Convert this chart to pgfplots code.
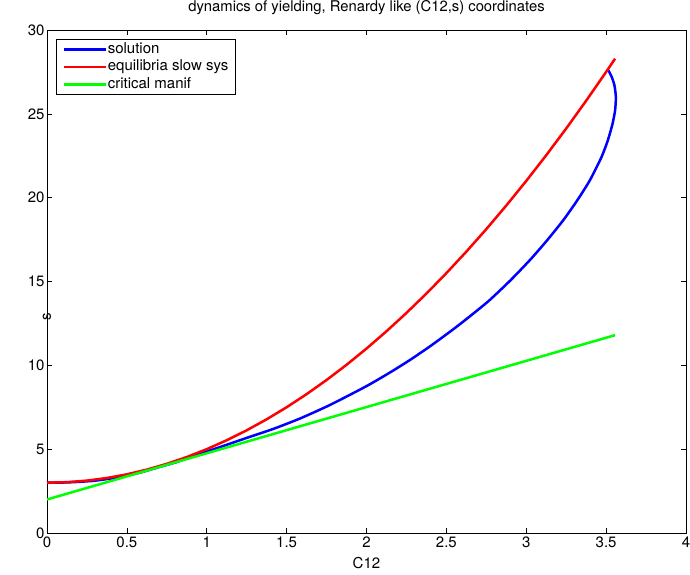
\documentclass[border=0pt]{standalone}
\usepackage{fontspec}
\setmainfont{TeX Gyre Heros}
\usepackage{pgfplots}
\pgfplotsset{compat=1.18}
\begin{document}
\begin{tikzpicture}
\useasboundingbox (-47pt,-41pt) rectangle (643pt,533pt);
\begin{axis}[
    at={(0pt,0pt)}, anchor=south west,
    scale only axis, width=639pt, height=503pt,
    xmin=0, xmax=4, ymin=0, ymax=30,
    xtick={0,0.5,...,4}, ytick={0,5,...,30},
    tick align=inside, major tick length=5pt,
    axis line style={line width=0.6pt},
    every tick/.style={black, line width=0.6pt},
    tick label style={font=\fontsize{15}{17}\selectfont},
    yticklabel style={xshift=1pt},
    /pgf/number format/assume math mode=true,
    title={dynamics of yielding, Renardy like (C12,s) coordinates},
    title style={at={(axis description cs:0.5,1)}, anchor=base, yshift=12pt,
        font=\fontsize{14.8}{17}\selectfont},
    xlabel={C12}, ylabel={s},
    xlabel style={at={(axis description cs:0.5,0)}, anchor=base, yshift=-35pt,
        font=\fontsize{15}{17}\selectfont},
    ylabel style={at={(axis description cs:0,0.5)}, anchor=center, xshift=-35pt,
        font=\fontsize{15}{17}\selectfont},
    legend cell align=left,
    legend style={at={(axis description cs:0.0141,0.982)}, anchor=north west,
        draw=black, line width=0.6pt, fill=white,
        font=\fontsize{15}{17}\selectfont,
        row sep=1.5pt, inner xsep=6pt, inner ysep=2pt,
        nodes={inner sep=1pt, text height=11pt, text depth=3pt},
        /tikz/every even column/.append style={column sep=3pt}},
    legend image code/.code={\draw[#1] (0pt,0pt) -- (42pt,0pt);},
]
% solution trajectory
\addplot[blue, line width=2.5pt, smooth, tension=0.4] coordinates {
    (0,3.0) (0.1,3.01) (0.2,3.05) (0.3,3.12) (0.4,3.25) (0.5,3.42)
    (0.6,3.65) (0.7,3.93) (0.8,4.2) (0.958,4.72) (1.1,5.18) (1.271,5.74)
    (1.42,6.22) (1.584,6.83) (1.772,7.64) (2.0,8.76) (2.15,9.59)
    (2.272,10.32) (2.4,11.15) (2.55,12.2) (2.673,13.12) (2.773,13.91)
    (2.9,15.06) (3.023,16.28) (3.13,17.45) (3.232,18.66) (3.32,19.85)
    (3.399,21.05) (3.47,22.4) (3.51,23.4) (3.54,24.4) (3.556,25.2)
    (3.561,26.0) (3.552,26.7) (3.535,27.2) (3.514,27.6)
};
\addlegendentry{solution}
% equilibria of the slow system
\addplot[red, line width=2.5pt] coordinates {
    (0,3) (0.125,3.03125) (0.25,3.125) (0.375,3.28125) (0.5,3.5)
    (0.625,3.78125) (0.75,4.125) (0.875,4.53125) (1,5) (1.125,5.53125)
    (1.25,6.125) (1.375,6.78125) (1.5,7.5) (1.625,8.28125) (1.75,9.125)
    (1.875,10.03125) (2,11) (2.125,12.03125) (2.25,13.125) (2.375,14.28125)
    (2.5,15.5) (2.625,16.78125) (2.75,18.125) (2.875,19.53125) (3,21)
    (3.125,22.53125) (3.25,24.125) (3.375,25.78125) (3.5,27.5) (3.556,28.29)
};
\addlegendentry{equilibria slow sys}
% critical manifold
\addplot[green, line width=2.5pt] coordinates {(0,2) (3.556,11.8)};
\addlegendentry{critical manif}
\end{axis}
\end{tikzpicture}
\end{document}
